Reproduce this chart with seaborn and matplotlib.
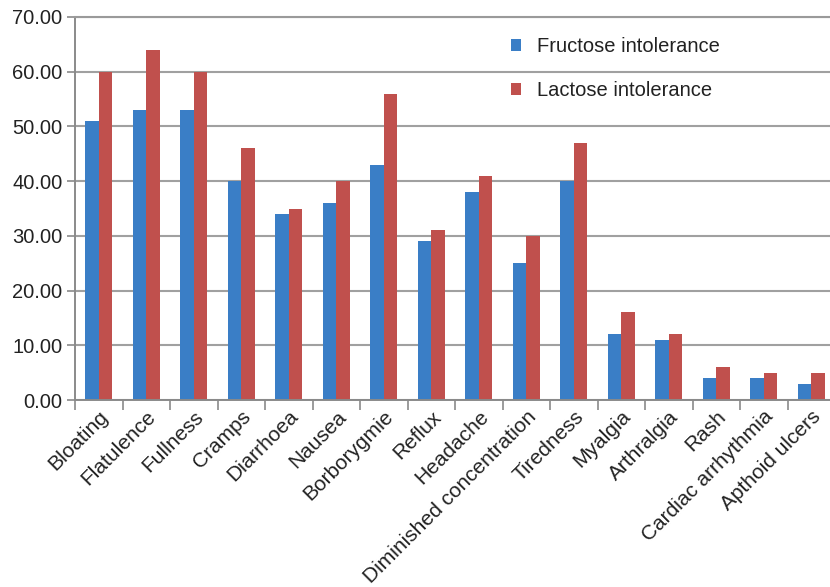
import matplotlib
matplotlib.use("Agg")
import matplotlib.pyplot as plt
import seaborn as sns
import pandas as pd
import numpy as np
from matplotlib.ticker import FormatStrFormatter, FixedLocator

categories = ["Bloating", "Flatulence", "Fullness", "Cramps", "Diarrhoea", "Nausea",
              "Borborygmie", "Reflux", "Headache", "Diminished concentration",
              "Tiredness", "Myalgia", "Arthralgia", "Rash", "Cardiac arrhythmia",
              "Apthoid ulcers"]
fructose = [51, 53, 53, 40, 34, 36, 43, 29, 38, 25, 40, 12, 11, 4, 4, 3]
lactose = [60, 64, 60, 46, 35, 40, 56, 31, 41, 30, 47, 16, 12, 6, 5, 5]
series_names = ["Fructose intolerance", "Lactose intolerance"]
yticks = [0, 10, 20, 30, 40, 50, 60, 70]

df = pd.DataFrame({
    "Symptom": categories * 2,
    "Value": fructose + lactose,
    "Group": [series_names[0]] * len(categories) + [series_names[1]] * len(categories),
})

sns.set_theme(style="white")
plt.rcParams["font.family"] = ["Liberation Sans", "DejaVu Sans"]

fig = plt.figure(figsize=(8.3, 5.87), dpi=100)
ax = fig.add_axes([75 / 830, 187 / 587, 760 / 830, 383 / 587])

sns.barplot(data=df, x="Symptom", y="Value", hue="Group", order=categories,
            hue_order=series_names, palette=["#3a7ec6", "#c0504d"],
            width=0.57, saturation=1, ax=ax, linewidth=0)

ax.set_ylim(0, 70)
ax.set_xlim(-0.5, len(categories) - 0.5)
ax.set_yticks(yticks)
ax.yaxis.set_major_formatter(FormatStrFormatter("%.2f"))
ax.grid(axis="y", color="#a0a0a0", linewidth=1.5)
ax.set_axisbelow(True)

ax.spines["right"].set_visible(False)
ax.spines["top"].set_color("#9a9a9a")
ax.spines["top"].set_linewidth(1.5)
ax.spines["left"].set_color("#8a8a8a")
ax.spines["left"].set_linewidth(1.4)
ax.spines["bottom"].set_color("#8a8a8a")
ax.spines["bottom"].set_linewidth(1.4)

ax.set_xlabel("")
ax.set_ylabel("")
ax.tick_params(axis="y", which="major", left=True, length=6, width=1.2,
               color="#8a8a8a", labelsize=14.5, labelcolor="#222222", pad=3)
ax.tick_params(axis="x", which="major", bottom=False, length=0, labelsize=15,
               labelcolor="#222222", pad=5)
ax.xaxis.set_minor_locator(FixedLocator(np.arange(-0.5, len(categories), 1.0)))
ax.tick_params(axis="x", which="minor", bottom=True, length=7, width=1.2,
               color="#8a8a8a")
ax.set_xticks(range(len(categories)))
ax.set_xticklabels(categories, rotation=45, ha="right", rotation_mode="anchor")

leg = ax.legend(loc="upper left", bbox_to_anchor=(0.55, 0.995), frameon=False,
                fontsize=14.5, handlelength=0.5, handleheight=0.5,
                handletextpad=0.8, labelspacing=1.25, title=None)
for t in leg.get_texts():
    t.set_color("#222222")

fig.savefig("out.png", dpi=100, facecolor="white")
